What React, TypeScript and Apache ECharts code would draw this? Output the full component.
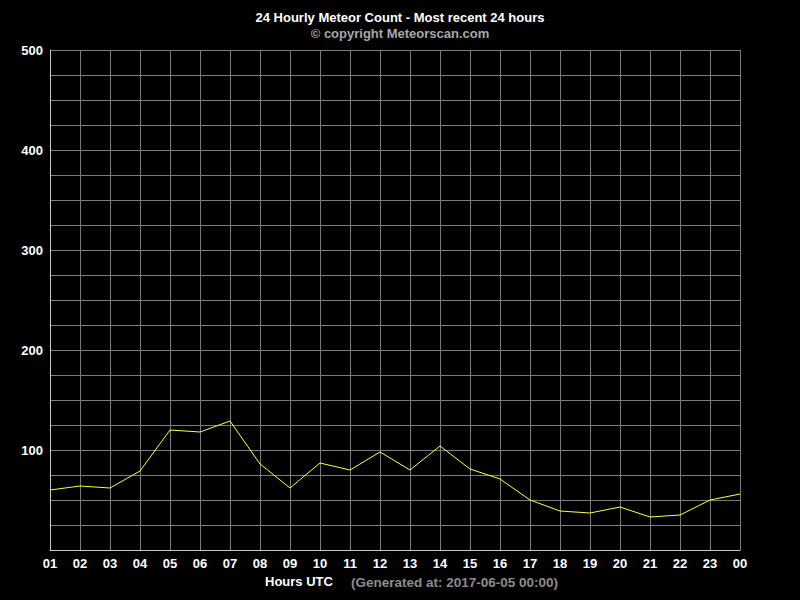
import { useEffect, useRef } from 'react'
import * as echarts from 'echarts'

const hours = ['01', '02', '03', '04', '05', '06', '07', '08', '09', '10', '11', '12', '13', '14', '15', '16', '17', '18', '19', '20', '21', '22', '23', '00']
const meteorCounts = [60, 64, 62, 79, 120, 118, 129, 86, 62, 87, 80, 98, 80, 104, 81, 71, 50, 39, 37, 43, 33, 35, 50, 56]
const titleText = '24 Hourly Meteor Count - Most recent 24 hours'
const subtitleText = '© copyright Meteorscan.com'
const axisTitle = 'Hours UTC'
const generatedText = '(Generated at: 2017-06-05 00:00)'

const font = '"Liberation Sans", Arial, sans-serif'

export default function App() {
  const chartRef = useRef<HTMLDivElement | null>(null)

  useEffect(() => {
    if (!chartRef.current) {
      return
    }

    const chart = echarts.init(chartRef.current, undefined, { renderer: 'svg' })
    chart.setOption({
      animation: false,
      backgroundColor: '#000000',
      textStyle: { fontFamily: font },
      title: {
        text: titleText,
        subtext: subtitleText,
        left: 'center',
        top: 6,
        itemGap: 3,
        textStyle: { color: '#ffffff', fontSize: 13, fontWeight: 'bold', fontFamily: font },
        subtextStyle: { color: '#a8a8a8', fontSize: 13, fontWeight: 'bold', fontFamily: font },
      },
      grid: { left: 50, right: 60, top: 50, bottom: 50 },
      xAxis: {
        type: 'category',
        data: hours,
        boundaryGap: false,
        axisLine: { lineStyle: { color: '#c8c8c8', width: 1 } },
        axisTick: { show: false },
        axisLabel: { color: '#ffffff', fontSize: 13, fontWeight: 'bold', margin: 7, interval: 0 },
        splitLine: { show: true, lineStyle: { color: '#7c7c7c', width: 1 } },
      },
      yAxis: {
        type: 'value',
        min: 0,
        max: 500,
        interval: 25,
        axisLine: { show: true, lineStyle: { color: '#c8c8c8', width: 1 } },
        axisTick: { show: false },
        axisLabel: {
          color: '#ffffff',
          fontSize: 13,
          fontWeight: 'bold',
          margin: 7,
          formatter: (v: number) => (v > 0 && v % 100 === 0 ? String(v) : ''),
        },
        splitLine: { show: true, lineStyle: { color: '#7c7c7c', width: 1 } },
      },
      graphic: [
        {
          type: 'text',
          left: 265,
          top: 575,
          style: { text: axisTitle, fill: '#ffffff', font: `bold 13px ${font}` },
        },
        {
          type: 'text',
          left: 351,
          top: 575,
          style: { text: generatedText, fill: '#8c8c8c', font: `bold 13.5px ${font}` },
        },
      ],
      series: [
        {
          type: 'line',
          data: meteorCounts,
          showSymbol: false,
          lineStyle: { color: '#ffff33', width: 1 },
        },
      ],
    })

    return () => {
      chart.dispose()
    }
  }, [])

  return (
    <div
      ref={chartRef}
      style={{ position: 'fixed', left: 0, top: 0, width: 800, height: 600 }}
    />
  )
}
